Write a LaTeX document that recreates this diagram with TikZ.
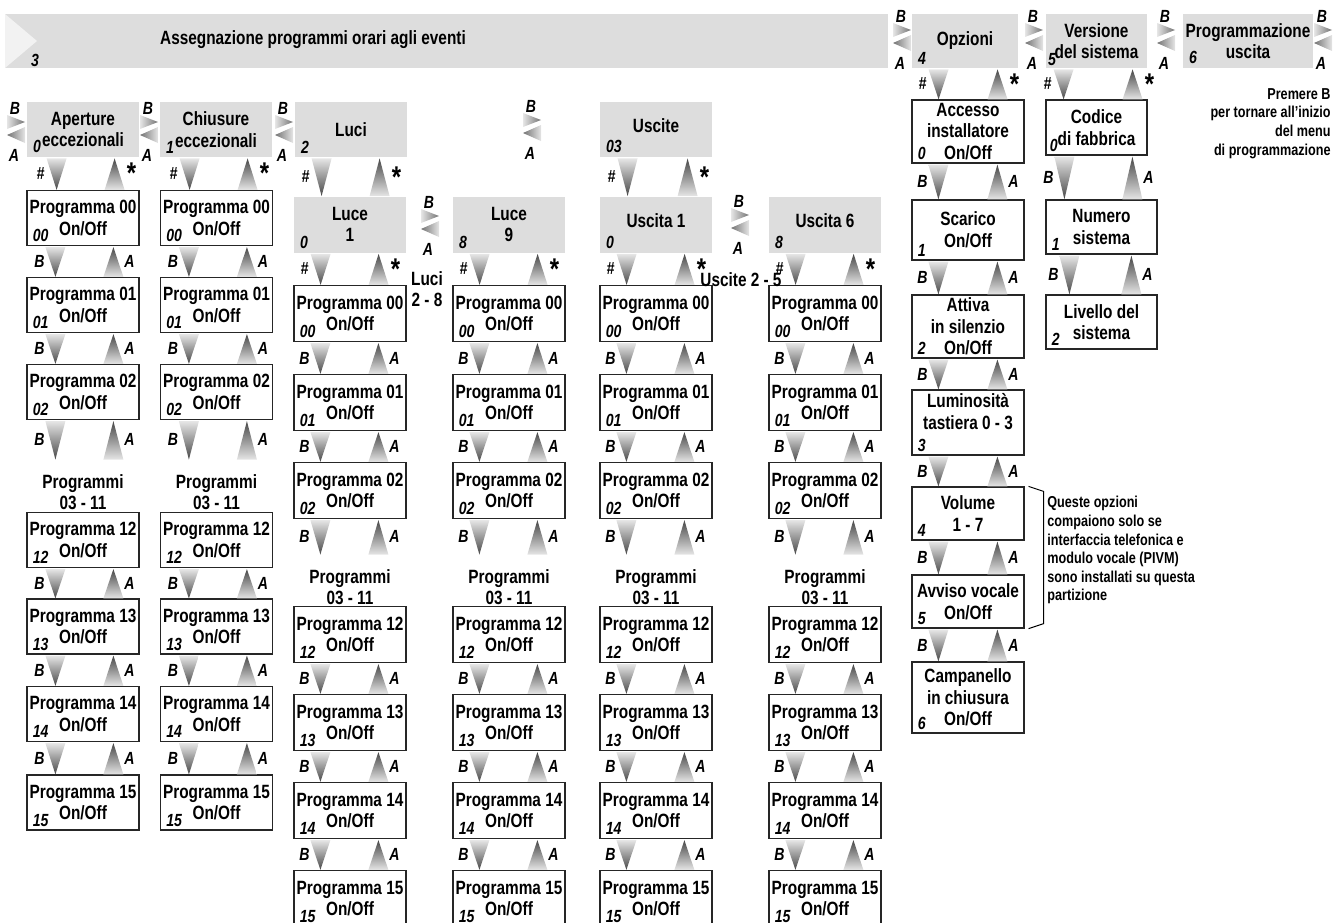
\documentclass[tikz,border=0pt]{standalone}
\usepackage{fontspec}
\setmainfont{Liberation Sans}[FakeStretch=0.8]
\usetikzlibrary{calc}

\definecolor{boxgray}{RGB}{221,221,221}
\newcommand{\boxfont}{\fontsize{9.6}{10.8}\selectfont\bfseries}
\newcommand{\keyfont}{\fontsize{8.8}{9.5}\selectfont\bfseries\itshape}
\newcommand{\notefont}{\fontsize{7.9}{9.3}\selectfont\bfseries}
\newcommand{\stsym}{\raisebox{-6pt}{\fontsize{15}{15}\selectfont\bfseries *}}

% down/up arrow pair between two stacked boxes
\newcommand{\vpair}[6]{%
  \shade[dnarr] let \p1=(#1.south west), \p2=(#2.north) in
    ({\x1+(#3-10)*0.5pt},{\y1-0.5pt}) -- ({\x1+(#3+10)*0.5pt},{\y1-0.5pt}) -- ({\x1+#3*0.5pt},\y2) -- cycle;
  \shade[uparr] let \p1=(#1.south west), \p2=(#2.north) in
    ({\x1+(#4-10)*0.5pt},\y2) -- ({\x1+(#4+10)*0.5pt},\y2) -- ({\x1+#4*0.5pt},{\y1-0.5pt}) -- cycle;
  \path let \p1=(#1.south west), \p2=(#2.north) in
    node[keylab] at ({\x1+(#3-16)*0.5pt},{(\y1+\y2)/2}) {#5}
    node[keylab] at ({\x1+(#4+16)*0.5pt},{(\y1+\y2)/2}) {#6};
}
% B/A pair between two boxes side by side
\newcommand{\hpair}[1]{%
  \shade[rtarr] let \p1=(#1) in ({\x1-4.5pt},{\y1+7.5pt}) -- ({\x1+4.5pt},{\y1+4pt}) -- ({\x1-4.5pt},{\y1+0.5pt}) -- cycle;
  \shade[ltarr] let \p1=(#1) in ({\x1+4.5pt},{\y1+1.5pt}) -- ({\x1-4.5pt},{\y1-2.5pt}) -- ({\x1+4.5pt},{\y1-6.5pt}) -- cycle;
  \path let \p1=(#1) in node[keylab] at ({\x1-0.5pt},{\y1+11pt}) {B} node[keylab] at ({\x1-1pt},{\y1-12.5pt}) {A};
}

\begin{document}
\begin{tikzpicture}[x=0.5pt, y=-0.5pt,
  gbox/.style={fill=boxgray, align=center, font=\boxfont, inner sep=1pt, minimum width=56pt, minimum height=27.5pt},
  wbox/.style={draw=black!85, line width=0.6pt, fill=white, align=center, font=\boxfont, inner sep=1pt, minimum width=56pt, minimum height=28pt},
  keylab/.style={font=\keyfont, inner sep=0pt},
  numlab/.style={font=\keyfont, inner sep=0pt, anchor=south west, xshift=3pt, yshift=2pt},
  note/.style={font=\notefont, inner sep=0pt},
  dnarr/.style={top color=black!10, bottom color=black!72},
  uparr/.style={top color=black!72, bottom color=black!10},
  rtarr/.style={left color=black!10, right color=black!55},
  ltarr/.style={left color=black!55, right color=black!10}]
\useasboundingbox (0,0) rectangle (1334,922);

% title band
\fill[boxgray] (5,14) rectangle (888,68);
\fill[black!5] (5,14) -- (37,41) -- (5,68) -- cycle;
\node[font=\boxfont] (tit) at (313,40) {Assegnazione programmi orari agli eventi};
\node[keylab] (n3) at (35,60) {3};

% top menu
\node[gbox, minimum width=53pt, minimum height=27pt, label={[numlab]south west:4}] (opz) at (965,41) {Opzioni};
\node[gbox, minimum width=50.5pt, minimum height=27pt, label={[numlab, xshift=-2pt, yshift=-1pt]south west:5}] (ver) at (1096.5,41) {Versione\\del sistema};
\node[gbox, minimum width=65pt, minimum height=27pt, label={[numlab]south west:6}] (prg) at (1248,41) {Programmazione\\uscita};
\coordinate (h1) at (902,38);
\coordinate (h2) at (1034,38);
\coordinate (h3) at (1166,38);
\coordinate (h4) at (1323,38);
\node[note, anchor=north east, align=right] (prem) at (1331,88) {Premere B\\per tornare all'inizio\\del menu\\di programmazione};

% event groups
\node[gbox, label={[numlab]south west:0}] (ape) at (83,129.5) {Aperture\\eccezionali};
\node[gbox, label={[numlab]south west:1}] (chi) at (216,129.5) {Chiusure\\eccezionali};
\node[gbox, label={[numlab]south west:2}] (luci) at (351,129.5) {Luci};
\node[gbox, label={[numlab]south west:03}] (usc) at (656,129.5) {\raisebox{4pt}{Uscite}};
\coordinate (h5) at (16,130);
\coordinate (h6) at (149,130);
\coordinate (h7) at (284,130);
\coordinate (h8) at (532,128);
\coordinate (h9) at (430,224);
\coordinate (h10) at (740,223);
\foreach \h in {h1,h2,h3,h4,h5,h6,h7,h8,h9,h10}{\hpair{\h}}

% aperture / chiusure columns
\foreach \col/\xc in {1/83,2/216.5}{
  \foreach \n/\yc in {00/218,01/305,02/392,12/540,13/626.5,14/714,15/802.5}
    \node[wbox, minimum height=27.5pt, label={[numlab]south west:\n}] (c\col p\n) at (\xc,\yc) {Programma \n\\On/Off};
  \node[font=\boxfont, align=center, minimum height=32pt] (c\col r) at (\xc,492) {Programmi\\03 - 11};
  \foreach \u/\l in {p00/p01,p01/p02,p02/r,p12/p13,p13/p14,p14/p15}{
    \vpair{c\col\u}{c\col\l}{29}{87}{B}{A}}
}
\vpair{ape}{c1p00}{30}{88}{\#}{\stsym}
\vpair{chi}{c2p00}{30}{88}{\#}{\stsym}

% luci / uscite columns
\foreach \col/\xc/\hd/\hn in {3/350/{Luce\\1}/0,4/509/{Luce\\9}/8,5/656/{\raisebox{4pt}{Uscita 1}}/0,6/825/{\raisebox{4pt}{Uscita 6}}/8}{
  \node[gbox, minimum height=28pt, label={[numlab]south west:\hn}] (c\col h) at (\xc,224.5) {\hd};
  \foreach \n/\yc in {00/313.5,01/402.5,02/490.5,12/634.5,13/722.5,14/810.5,15/898.5}
    \node[wbox, label={[numlab]south west:\n}] (c\col p\n) at (\xc,\yc) {Programma \n\\On/Off};
  \node[font=\boxfont, align=center, minimum height=32pt] (c\col r) at (\xc,587) {Programmi\\03 - 11};
  \vpair{c\col h}{c\col p00}{27}{85}{\#}{\stsym}
  \foreach \u/\l in {p00/p01,p01/p02,p02/r,p12/p13,p13/p14,p14/p15}{
    \vpair{c\col\u}{c\col\l}{27}{85}{B}{A}}
}
\vpair{luci}{c3h}{27}{85}{\#}{\stsym}
\vpair{usc}{c5h}{28}{88}{\#}{\stsym}
\node[font=\boxfont, align=center] (lu28) at (427,289) {Luci\\2 - 8};
\node[font=\boxfont] (us25) at (741,280) {Uscite 2 - 5};

% opzioni column
\node[wbox, minimum height=31.5pt, label={[numlab]south west:0}] (acc) at (968,131.5) {Accesso\\installatore\\On/Off};
\node[wbox, minimum height=30pt, label={[numlab]south west:1}] (sca) at (968,230) {Scarico\\On/Off};
\node[wbox, minimum height=31.5pt, label={[numlab]south west:2}] (att) at (968,326.5) {Attiva\\in silenzio\\On/Off};
\node[wbox, minimum height=32.5pt, label={[numlab]south west:3}] (lum) at (968,422.5) {Luminosità\\tastiera 0 - 3\\\mbox{}};
\node[wbox, minimum height=26.5pt, label={[numlab]south west:4}] (vol) at (968,513.5) {Volume\\1 - 7};
\node[wbox, minimum height=26.5pt, label={[numlab]south west:5}] (avv) at (968,601.5) {Avviso vocale\\On/Off};
\node[wbox, minimum height=35.5pt, label={[numlab]south west:6}] (cam) at (968,697.5) {Campanello\\in chiusura\\On/Off};
\vpair{opz}{acc}{27}{86}{\#}{\stsym}
\foreach \u/\l in {acc/sca,sca/att,att/lum,lum/vol,vol/avv,avv/cam}{
  \vpair{\u}{\l}{27}{86}{B}{A}}
\draw[line width=0.5pt] ($(vol.north east)+(4,0)$) -- ($(vol.north east)+(19,5)$)
  -- ($(avv.south east)+(19,-5)$) -- ($(avv.south east)+(4,0)$);
\node[note, anchor=north west, align=left] (ques) at (1047,496) {Queste opzioni\\compaiono solo se\\interfaccia telefonica e\\modulo vocale (PIVM)\\sono installati su questa\\partizione};

% versione column
\node[wbox, minimum width=50.5pt, minimum height=27.5pt, label={[numlab, xshift=-1pt]south west:0}] (cod) at (1096.5,127.5) {Codice\\di fabbrica};
\node[wbox, minimum width=55.5pt, minimum height=27pt, label={[numlab]south west:1}] (num) at (1101.5,227) {Numero\\sistema};
\node[wbox, minimum width=55.5pt, minimum height=27pt, label={[numlab]south west:2}] (liv) at (1101.5,322) {Livello del\\sistema};
\vpair{ver}{cod}{18}{87}{\#}{\stsym}
\vpair{cod}{num}{19}{87}{B}{A}
\vpair{num}{liv}{24}{86}{B}{A}
\end{tikzpicture}
\end{document}
